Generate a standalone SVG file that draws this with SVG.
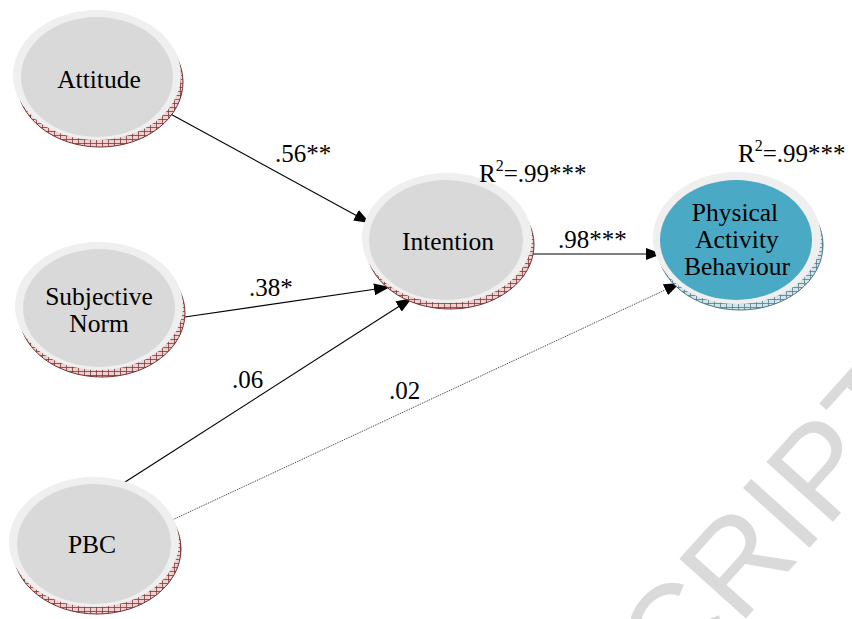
<svg xmlns="http://www.w3.org/2000/svg" width="852" height="619" viewBox="0 0 852 619">
  <defs>
    <pattern id="hatchRed" patternUnits="userSpaceOnUse" width="6" height="4">
      <rect width="6" height="4" fill="#e9d2d2"/>
      <path d="M0.5 0V4M0 3.5H6" stroke="#8a3434" stroke-width="0.8"/>
    </pattern>
    <pattern id="hatchBlue" patternUnits="userSpaceOnUse" width="6" height="4">
      <rect width="6" height="4" fill="#d3e3e8"/>
      <path d="M0.5 0V4M0 3.5H6" stroke="#4f7f8e" stroke-width="0.8"/>
    </pattern>
    <marker id="arrow" viewBox="0 0 16 12" refX="16" refY="6" markerWidth="16" markerHeight="12" markerUnits="userSpaceOnUse" orient="auto">
      <path d="M0 0L16 6L0 12Z" fill="#000"/>
    </marker>
  </defs>
  <style>
    .rim { fill: url(#hatchRed); stroke: #7a2c2c; stroke-width: 1; }
    .rimB { fill: url(#hatchBlue); stroke: #4b7888; stroke-width: 1; }
    .ring { fill: #efefef; }
    .face { fill: #d9d9d9; }
    .faceB { fill: #4aa9c4; }
    .lbl { font-family: "Liberation Serif", "Times New Roman", serif; font-size: 25.5px; fill: #000; text-anchor: middle; }
    .coef { font-family: "Liberation Serif", "Times New Roman", serif; font-size: 25px; fill: #000; }
    .edge { stroke: #000; stroke-width: 1.1; fill: none; marker-end: url(#arrow); }
    .dot { stroke: #333; stroke-width: 1; stroke-dasharray: 1 1; fill: none; marker-end: url(#arrow); }
    .wm { font-family: "Liberation Sans", Arial, sans-serif; font-size: 130px; fill: #dadada; }
  </style>

  <!-- watermark -->
  <g transform="translate(-136,1598) rotate(-48)">
    <text class="wm" x="0" y="0">ACCEPTED MANUSCRIPT</text>
  </g>

  <!-- connectors -->
  <g id="connectors">
    <line class="edge" x1="165" y1="111" x2="370" y2="223"/>
    <line class="edge" x1="178" y1="318" x2="390" y2="287"/>
    <line class="edge" x1="122" y1="484" x2="412" y2="298"/>
    <line class="dot" x1="170" y1="521" x2="680" y2="283"/>
    <line class="edge" x1="522" y1="254" x2="662" y2="254"/>
    <text class="coef" x="275" y="162">.56**</text>
    <text class="coef" x="249" y="296">.38*</text>
    <text class="coef" x="232" y="388">.06</text>
    <text class="coef" x="389" y="399">.02</text>
    <text class="coef" x="558" y="248">.98***</text>
  </g>

  <g id="attitude">
    <ellipse class="rim" cx="100" cy="82" rx="83" ry="65"/>
    <ellipse class="ring" cx="97" cy="75" rx="84" ry="65"/>
    <ellipse class="face" cx="97" cy="77" rx="76" ry="60"/>
    <text class="lbl" x="99" y="88">Attitude</text>
  </g>

  <g id="subjective-norm">
    <ellipse class="rim" cx="102" cy="313" rx="83" ry="64"/>
    <ellipse class="ring" cx="99" cy="306" rx="84" ry="64"/>
    <ellipse class="face" cx="99" cy="308" rx="76" ry="59"/>
    <text class="lbl" x="99" y="305">Subjective</text>
    <text class="lbl" x="99" y="332">Norm</text>
  </g>

  <g id="pbc">
    <ellipse class="rim" cx="97" cy="549" rx="84" ry="65"/>
    <ellipse class="ring" cx="94" cy="542" rx="85" ry="65"/>
    <ellipse class="face" cx="94" cy="544" rx="77" ry="60"/>
    <text class="lbl" x="92" y="553">PBC</text>
  </g>

  <g id="intention">
    <ellipse class="rim" cx="450" cy="245" rx="84" ry="64"/>
    <ellipse class="ring" cx="447" cy="238" rx="85" ry="65"/>
    <ellipse class="face" cx="446" cy="240" rx="77" ry="60"/>
    <text class="lbl" x="448" y="250">Intention</text>
    <text class="coef" x="479" y="182">R<tspan dy="-11" font-size="16">2</tspan><tspan dy="11">=.99***</tspan></text>
  </g>

  <g id="physical-activity-behaviour">
    <ellipse class="rimB" cx="740" cy="245" rx="83" ry="65"/>
    <ellipse class="ring" cx="737" cy="238" rx="84" ry="66"/>
    <ellipse class="faceB" cx="736" cy="240" rx="76" ry="60"/>
    <text class="lbl" x="735" y="221">Physical</text>
    <text class="lbl" x="737" y="248">Activity</text>
    <text class="lbl" x="737" y="275">Behaviour</text>
    <text class="coef" x="738" y="162">R<tspan dy="-11" font-size="16">2</tspan><tspan dy="11">=.99***</tspan></text>
  </g>
</svg>
